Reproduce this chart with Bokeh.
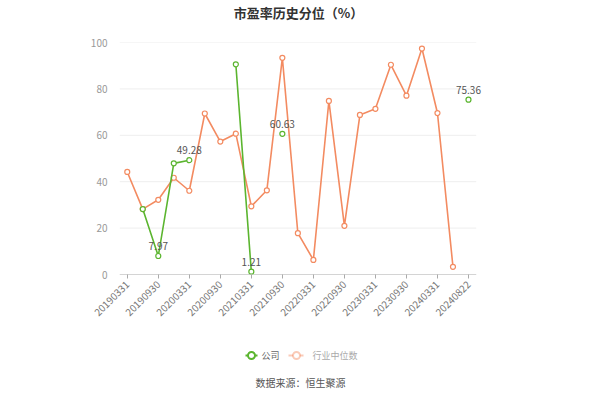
from bokeh.plotting import figure
from bokeh.layouts import column
from bokeh.models import (ColumnDataSource, FixedTicker, LabelSet, Label, Range1d)
from bokeh.embed import file_html
from bokeh.resources import INLINE
from bokeh.core.properties import value
import math

dates = ["20190331", "20190630", "20190930", "20191231", "20200331", "20200630",
         "20200930", "20201231", "20210331", "20210630", "20210930", "20211231",
         "20220331", "20220630", "20220930", "20221231", "20230331", "20230630",
         "20230930", "20231231", "20240331", "20240630", "20240822"]
nan = float("nan")
company = [nan, 28.2, 7.97, 47.9, 49.28, nan, nan, 90.6, 1.21, nan, 60.63, nan,
           nan, nan, nan, nan, nan, nan, nan, nan, nan, nan, 75.36]
industry = [44.2, 28.2, 32.2, 41.7, 36.1, 69.4, 57.3, 60.7, 29.4, 36.3, 93.4, 17.8,
            6.3, 74.8, 21.0, 68.8, 71.4, 90.4, 77.1, 97.4, 69.6, 3.3, nan]
labelled = ["20190930", "20200331", "20210331", "20210930", "20240822"]
y_ticks = [0, 20, 40, 60, 80, 100]
series_names = ["公司", "行业中位数"]
title_text = "市盈率历史分位（%）"
source_text = "数据来源：恒生聚源"

GREEN = "#5bb52f"
ORANGE = "#f38b61"
FONT = "Noto Sans CJK SC"

W = 584
LEFT, RIGHT = 119, 85          # frame spans page x 119..499
H_HEAD, H_MAIN, H_FOOT = 26, 308, 55

n = len(dates)
xs = list(range(n))
src_c = ColumnDataSource(dict(x=xs, y=company))
src_i = ColumnDataSource(dict(x=xs, y=industry))
lab_x = [dates.index(d) for d in labelled]
lab_y = [company[i] for i in lab_x]
src_l = ColumnDataSource(dict(x=lab_x, y=lab_y, t=[f"{v:.2f}" for v in lab_y]))


def blank(height):
    f = figure(width=W, height=height, output_backend="svg", toolbar_location=None,
               x_range=Range1d(LEFT, W - RIGHT), y_range=Range1d(0, height),
               x_axis_type=None, y_axis_type=None,
               min_border_left=LEFT, min_border_right=RIGHT, min_border_top=0,
               min_border_bottom=0)
    f.outline_line_color = None
    f.xgrid.grid_line_color = None
    f.ygrid.grid_line_color = None
    return f


# header with title
h = blank(H_HEAD)
h.add_layout(Label(x=298, y=H_HEAD - 12, text=title_text, text_align="center",
                   text_baseline="middle", text_font=FONT, text_font_size="13px",
                   text_font_style="bold", text_color="#333333"))

# main chart
p = figure(width=W, height=H_MAIN, output_backend="svg", toolbar_location=None,
           x_range=Range1d(-0.5, n + 1.0), y_range=Range1d(0, 100),
           min_border_left=LEFT, min_border_right=RIGHT, min_border_top=16,
           min_border_bottom=60)
p.outline_line_color = None
p.xgrid.grid_line_color = None
p.ygrid.grid_line_color = None

grid_y = y_ticks[1:]
p.segment(x0=[-0.5] * len(grid_y), x1=[n - 0.5] * len(grid_y), y0=grid_y, y1=grid_y,
          line_color="#eeeeee", line_width=1)
p.segment(x0=[-0.5], x1=[n - 0.5], y0=[y_ticks[0]], y1=[y_ticks[0]],
          line_color="#aaaaaa", line_width=1)

p.yaxis.ticker = FixedTicker(ticks=y_ticks)
p.yaxis.axis_line_color = None
p.yaxis.major_tick_line_color = None
p.yaxis.minor_tick_line_color = None
p.yaxis.major_label_text_color = "#999999"
p.yaxis.major_label_text_font = FONT
p.yaxis.major_label_text_font_size = "10px"
p.yaxis.major_label_standoff = 6

p.xaxis.ticker = FixedTicker(ticks=xs[::2])
p.xaxis.major_label_overrides = {i: d for i, d in enumerate(dates)}
p.xaxis.major_label_orientation = math.pi / 4
p.xaxis.axis_line_color = None
p.xaxis.major_tick_line_color = "#aaaaaa"
p.xaxis.major_tick_in = 0
p.xaxis.major_tick_out = 4
p.xaxis.minor_tick_line_color = None
p.xaxis.major_label_text_color = "#777777"
p.xaxis.major_label_text_font = FONT
p.xaxis.major_label_text_font_size = "10px"
p.xaxis.major_label_standoff = 4

p.line("x", "y", source=src_i, line_color=ORANGE, line_width=1.6)
p.scatter("x", "y", source=src_i, size=5, line_color=ORANGE,
          fill_color="white", line_width=1.2)
p.line("x", "y", source=src_c, line_color=GREEN, line_width=1.6)
p.scatter("x", "y", source=src_c, size=5, line_color=GREEN,
          fill_color="white", line_width=1.2)

p.add_layout(LabelSet(x="x", y="y", text="t", source=src_l, y_offset=6,
                      text_align="center", text_baseline="bottom",
                      text_font_size="10px", text_color="#555555",
                      text_font=value(FONT)))

# footer: legend and source note
f = blank(H_FOOT)
ly = 34
icon_x0 = [245, 288]
icon_x1 = [257, 303]
icon_cx = [251, 296]
text_x = [261, 312]
colors = [GREEN, ORANGE]
alphas = [1.0, 0.45]
label_colors = ["#666666", "#aaaaaa"]
for i in range(len(series_names)):
    f.segment(x0=[icon_x0[i]], x1=[icon_x1[i]], y0=[ly], y1=[ly],
              line_color=colors[i], line_width=2, line_alpha=alphas[i])
    f.scatter(x=[icon_cx[i]], y=[ly], size=7, line_color=colors[i],
              fill_color="white", line_width=2, line_alpha=alphas[i])
    f.add_layout(Label(x=text_x[i], y=ly, text=series_names[i], text_align="left",
                       text_baseline="middle", text_font=FONT,
                       text_font_size="9px", text_color=label_colors[i]))

f.add_layout(Label(x=300, y=7, text=source_text, text_align="center",
                   text_baseline="middle", text_font=FONT,
                   text_font_size="10px", text_color="#555555"))

layout = column(h, p, f, spacing=0)
open("out.html", "w").write(file_html(layout, INLINE))
